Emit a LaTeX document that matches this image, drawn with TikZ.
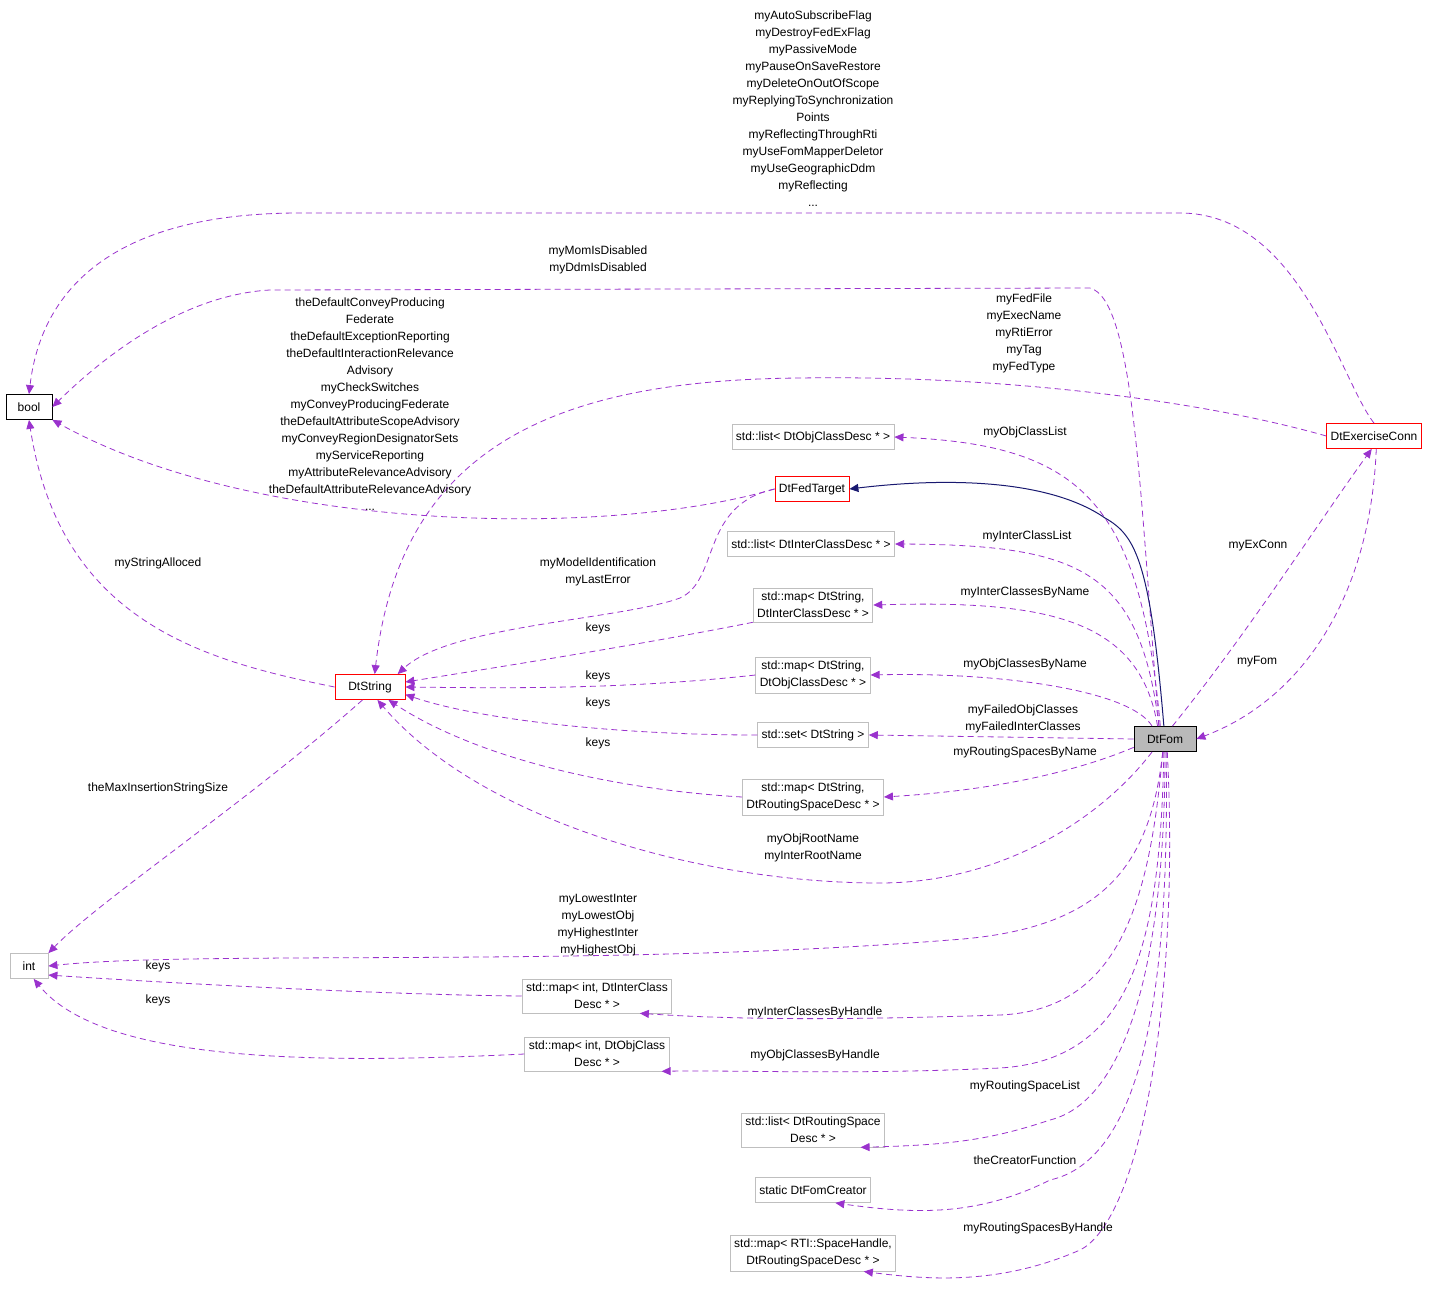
\documentclass[tikz,border=0pt]{standalone}
\usepackage{fontspec}
\setmainfont{Liberation Sans}
\usetikzlibrary{arrows.meta}
\definecolor{edge}{HTML}{9A32CD}
\definecolor{inh}{HTML}{191970}
\definecolor{gbox}{HTML}{BFBFBF}
\tikzset{
  every node/.style={font=\fontsize{12}{17}\selectfont},
  box/.style={draw=gbox, fill=white, align=center, inner sep=4pt, minimum height=25pt, line width=0.8pt},
  rbox/.style={box, draw=red},
  kbox/.style={box, draw=black},
  lab/.style={align=center, inner sep=0pt},
  dep/.style={draw=edge, dashed, dash pattern=on 6pt off 4pt, line width=0.8pt, -{Triangle[length=9pt,width=8pt]}},
  inhe/.style={draw=inh, line width=1pt, -{Triangle[length=9pt,width=8pt]}},
}
\begin{document}
\begin{tikzpicture}[x=1pt,y=-1pt]
\useasboundingbox (0,0) rectangle (1440,1289);
% nodes
\node[kbox, minimum width=46pt] (bool) at (29,407) {bool};
\node[box, minimum width=38pt] (int) at (29,966) {int};
\node[rbox, minimum width=70pt] (ds) at (370,687) {DtString};
\node[rbox] (ft) at (812,489) {DtFedTarget};
\node[rbox] (ex) at (1374,436) {DtExerciseConn};
\node[kbox, fill=gbox!110!black, fill=gray!55, minimum width=62pt] (fom) at (1165,739) {DtFom};
\node[box] (lo) at (813,437) {std::list< DtObjClassDesc * >};
\node[box] (li) at (811,544) {std::list< DtInterClassDesc * >};
\node[box] (mi) at (813,605) {std::map< DtString,\\ DtInterClassDesc * >};
\node[box] (mo) at (813,675) {std::map< DtString,\\ DtObjClassDesc * >};
\node[box] (st) at (813,735) {std::set< DtString >};
\node[box] (mr) at (813,797) {std::map< DtString,\\ DtRoutingSpaceDesc * >};
\node[box] (mii) at (597,996) {std::map< int, DtInterClass\\ Desc * >};
\node[box] (mio) at (597,1054) {std::map< int, DtObjClass\\ Desc * >};
\node[box] (lr) at (813,1130) {std::list< DtRoutingSpace\\ Desc * >};
\node[box] (cr) at (813,1190) {static DtFomCreator};
\node[box] (mrt) at (813,1253) {std::map< RTI::SpaceHandle,\\ DtRoutingSpaceDesc * >};
% edges
\draw[dep] (ex.north) .. controls (1340,380) and (1300,213) .. (1180,213) -- (300,213) .. controls (100,213) and (40,300) .. (bool.north);
\draw[dep] (fom.115) .. controls (1140,500) and (1135,300) .. (1090,288) -- (270,290) .. controls (180,295) and (100,360) .. (bool.east);
\draw[dep] (ft.west) .. controls (600,540) and (250,530) .. (bool.south east);
\draw[dep] (ds.west) .. controls (200,660) and (60,620) .. (bool.south);
\draw[dep] (ex.west) .. controls (1200,400) and (1000,375) .. (800,378) .. controls (550,380) and (400,450) .. (ds.70);
\draw[dep] (ft.west) .. controls (700,505) and (720,580) .. (680,598) .. controls (620,620) and (450,625) .. (ds.25);
\draw[dep] (mi.south west) .. controls (640,645) and (480,670) .. (ds.8);
\draw[dep] (mo.west) .. controls (620,690) and (500,688) .. (ds.east);
\draw[dep] (st.west) .. controls (620,735) and (480,720) .. (ds.-12);
\draw[dep] (mr.west) .. controls (620,790) and (480,760) .. (ds.-35);
\draw[dep] (fom.-135) .. controls (1100,820) and (1000,883) .. (880,883) .. controls (700,883) and (480,820) .. (ds.-60);
\draw[dep] (ds.-120) .. controls (250,800) and (100,900) .. (int.north east);
\draw[dep] (fom.-100) .. controls (1150,870) and (1100,930) .. (950,940) .. controls (600,968) and (200,950) .. (int.east);
\draw[dep] (mii.west) .. controls (400,995) and (200,985) .. (int.-25);
\draw[dep] (mio.west) .. controls (300,1065) and (100,1060) .. (int.-70);
\draw[dep] (fom.110) .. controls (1140,500) and (1080,445) .. (lo.east);
\draw[dep] (fom.115) .. controls (1140,570) and (1080,545) .. (li.east);
\draw[dep] (fom.120) .. controls (1140,620) and (1050,600) .. (mi.east);
\draw[dep] (fom.135) .. controls (1130,690) and (1000,672) .. (mo.east);
\draw[dep] (fom.west) -- (st.east);
\draw[dep] (fom.-165) .. controls (1080,770) and (1000,790) .. (mr.east);
\draw[dep] (fom.-100) .. controls (1150,900) and (1120,1010) .. (1000,1015) .. controls (850,1020) and (740,1020) .. (mii.-22);
\draw[dep] (fom.-95) .. controls (1160,950) and (1130,1060) .. (1000,1068) .. controls (850,1075) and (740,1070) .. (mio.-15);
\draw[dep] (fom.-90) .. controls (1165,950) and (1130,1100) .. (1050,1120) .. controls (990,1140) and (950,1145) .. (lr.-20);
\draw[dep] (fom.-85) .. controls (1170,1000) and (1140,1160) .. (1050,1180) .. controls (980,1215) and (920,1215) .. (cr.-30);
\draw[dep] (fom.-80) .. controls (1180,1000) and (1140,1220) .. (1080,1250) .. controls (1000,1285) and (930,1280) .. (mrt.-20);
\draw[dep] (fom.60) .. controls (1250,630) and (1320,520) .. (ex.-100);
\draw[dep] (ex.-80) .. controls (1370,600) and (1300,700) .. (fom.east);
\draw[inhe] (fom.95) .. controls (1150,560) and (1135,535) .. (1105,518) .. controls (1050,480) and (950,477) .. (ft.east);
% labels
\node[lab] (l1) at (813,109) {myAutoSubscribeFlag\\myDestroyFedExFlag\\myPassiveMode\\myPauseOnSaveRestore\\myDeleteOnOutOfScope\\myReplyingToSynchronization\\Points\\myReflectingThroughRti\\myUseFomMapperDeletor\\myUseGeographicDdm\\myReflecting\\...};
\node[lab] (l2) at (598,260) {myMomIsDisabled\\myDdmIsDisabled};
\node[lab] (l3) at (370,404) {theDefaultConveyProducing\\Federate\\theDefaultExceptionReporting\\theDefaultInteractionRelevance\\Advisory\\myCheckSwitches\\myConveyProducingFederate\\theDefaultAttributeScopeAdvisory\\myConveyRegionDesignatorSets\\myServiceReporting\\myAttributeRelevanceAdvisory\\theDefaultAttributeRelevanceAdvisory\\...};
\node[lab] (l4) at (158,563) {myStringAlloced};
\node[lab] (l5) at (1024,333) {myFedFile\\myExecName\\myRtiError\\myTag\\myFedType};
\node[lab] (l6) at (598,572) {myModelIdentification\\myLastError};
\node[lab] (l7) at (598,628) {keys};
\node[lab] (l8) at (598,676) {keys};
\node[lab] (l9) at (598,703) {keys};
\node[lab] (l10) at (598,743) {keys};
\node[lab] (l11) at (813,848) {myObjRootName\\myInterRootName};
\node[lab] (l12) at (158,788) {theMaxInsertionStringSize};
\node[lab] (l13) at (598,925) {myLowestInter\\myLowestObj\\myHighestInter\\myHighestObj};
\node[lab] (l14) at (158,966) {keys};
\node[lab] (l15) at (158,1000) {keys};
\node[lab] (l16) at (1025,432) {myObjClassList};
\node[lab] (l17) at (1027,536) {myInterClassList};
\node[lab] (l18) at (1025,592) {myInterClassesByName};
\node[lab] (l19) at (1025,664) {myObjClassesByName};
\node[lab] (l20) at (1023,719) {myFailedObjClasses\\myFailedInterClasses};
\node[lab] (l21) at (1025,752) {myRoutingSpacesByName};
\node[lab] (l22) at (815,1012) {myInterClassesByHandle};
\node[lab] (l23) at (815,1055) {myObjClassesByHandle};
\node[lab] (l24) at (1025,1086) {myRoutingSpaceList};
\node[lab] (l25) at (1025,1160) {theCreatorFunction};
\node[lab] (l26) at (1038,1228) {myRoutingSpacesByHandle};
\node[lab] (l27) at (1258,546) {myExConn};
\node[lab] (l28) at (1257,662) {myFom};
\end{tikzpicture}
\end{document}
